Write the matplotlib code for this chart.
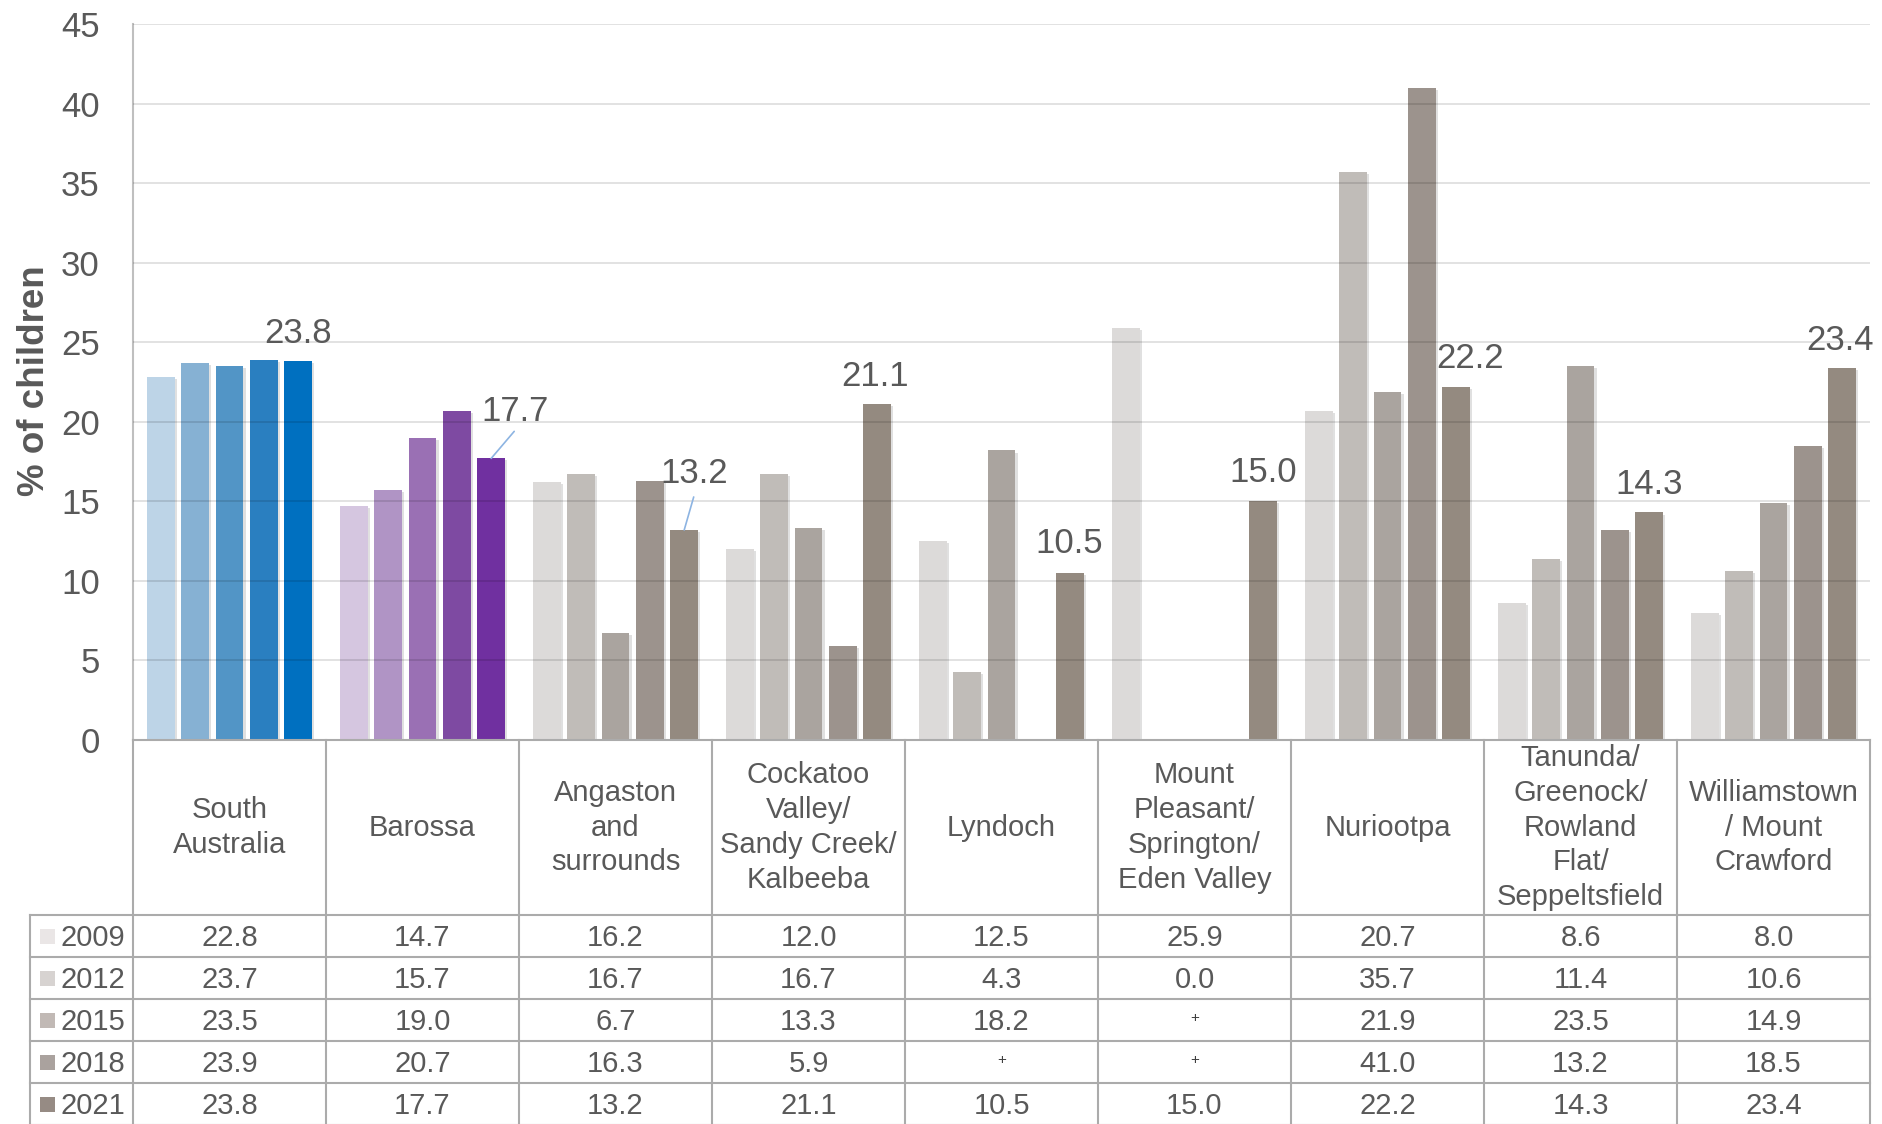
import numpy as np
import matplotlib
matplotlib.use("Agg")
import matplotlib.pyplot as plt
import matplotlib.patheffects as pe
from matplotlib.transforms import blended_transform_factory

plt.rcParams['font.family'] = ['Liberation Sans', 'DejaVu Sans']

# Categories and yearly values (None = suppressed, shown as "+")
categories = ["South\nAustralia", "Barossa", "Angaston\nand\nsurrounds",
              "Cockatoo\nValley/\nSandy Creek/\nKalbeeba", "Lyndoch",
              "Mount\nPleasant/\nSprington/\nEden Valley", "Nuriootpa",
              "Tanunda/\nGreenock/\nRowland\nFlat/\nSeppeltsfield",
              "Williamstown\n/ Mount\nCrawford"]
years = ["2009", "2012", "2015", "2018", "2021"]
v2009 = [22.8, 14.7, 16.2, 12.0, 12.5, 25.9, 20.7, 8.6, 8.0]
v2012 = [23.7, 15.7, 16.7, 16.7, 4.3, 0.0, 35.7, 11.4, 10.6]
v2015 = [23.5, 19.0, 6.7, 13.3, 18.2, None, 21.9, 23.5, 14.9]
v2018 = [23.9, 20.7, 16.3, 5.9, None, None, 41.0, 13.2, 18.5]
v2021 = [23.8, 17.7, 13.2, 21.1, 10.5, 15.0, 22.2, 14.3, 23.4]
series = [v2009, v2012, v2015, v2018, v2021]

blues = ['#BDD4E7', '#86B1D3', '#5295C6', '#2A7FC0', '#0070C0']
purples = ['#D5C6E0', '#B094C5', '#9A70B4', '#7E4AA2', '#7030A0']
greys = ['#DCDAD9', '#C0BCB8', '#AAA49F', '#9C938D', '#948A80']
swatch = ['#EAE6E6', '#D7D3D1', '#C1B9B5', '#AAA29E', '#968B84']

TXT = '#595959'
LINE = '#ABABAB'

W, H = 1882, 1124
fig = plt.figure(figsize=(W / 100, H / 100), dpi=100)
ax = fig.add_axes([133 / W, 1 - 740 / H, (1870 - 133) / W, (740 - 24) / H])

x = np.arange(len(categories))
step, bw = 0.178, 0.145
shadow = [pe.SimplePatchShadow(offset=(1.5, -1.5), shadow_rgbFace='black', alpha=0.12), pe.Normal()]

for k, vals in enumerate(series):
    h = np.array([np.nan if v is None else v for v in vals], dtype=float)
    cols = [blues[k], purples[k]] + [greys[k]] * (len(categories) - 2)
    bars = ax.bar(x + (k - 2) * step, h, width=bw, color=cols, zorder=1)
    for b in bars:
        b.set_path_effects(shadow)

# labels on the 2021 bars: (dx, dy) offsets of the label centre in pixels
lab_off = [(0, 31), (24, 50), (10, 59), (-2, 31), (-1, 32), (0, 32), (14, 31), (0, 31), (-2, 30)]
leaders = {1: (23, 27), 2: (9.5, 33)}
for i, v in enumerate(v2021):
    xb = x[i] + 2 * step
    dx, dy = lab_off[i]
    ax.annotate(f"{v:.1f}", xy=(xb, v), xytext=(dx, dy - 12.4), textcoords='offset pixels',
                ha='center', va='baseline', fontsize=25, color=TXT, zorder=4,
                annotation_clip=False)
    if i in leaders:
        ax.annotate('', xy=(xb, v), xytext=leaders[i], textcoords='offset pixels',
                    arrowprops=dict(arrowstyle='-', color='#8DB4E2', lw=1.2,
                                    shrinkA=0, shrinkB=0), zorder=4)

ax.set_xlim(-0.5, len(categories) - 0.5)
ax.set_ylim(0, 45)
ax.set_yticks(np.arange(0, 46, 5))
ax.set_xticks([])
ax.tick_params(axis='y', length=0, pad=24, labelsize=25, labelcolor=TXT)
ax.set_axisbelow(False)
ax.grid(axis='y', color='black', alpha=0.15, lw=1.1)
for s in ['top', 'right', 'bottom']:
    ax.spines[s].set_visible(False)
ax.spines['left'].set_color('#BFBFBF')
ax.spines['left'].set_linewidth(1.5)
ax.set_ylabel('% of children', fontsize=26.5, fontweight='bold', color=TXT)
ax.yaxis.set_label_coords(52 / W, 1 - 381 / H, transform=fig.transFigure)

# data table under the chart, y in figure pixels measured from the top
tab = fig.add_axes([0, 0, 1, 1], facecolor='none')
tab.set_xlim(0, W)
tab.set_ylim(H, 0)
tab.axis('off')
tr = blended_transform_factory(ax.transData, tab.transData)

head_top, head_bot = 740, 915
row_h = 42
n = len(categories)
for i in range(n + 1):
    tab.plot([i - 0.5, i - 0.5], [head_top, H], color=LINE, lw=1.5, transform=tr, clip_on=False)
tab.plot([-0.5, n - 0.5], [head_top, head_top], color=LINE, lw=1.5, transform=tr, clip_on=False)
tab.plot([30, 30], [head_bot, H], color=LINE, lw=1.5, clip_on=False)
for r in range(len(years) + 1):
    yy = head_bot + r * row_h
    tab.plot([30, 1870], [yy, yy], color=LINE, lw=1.5, clip_on=False)

for i, c in enumerate(categories):
    tab.text(x[i], (head_top + head_bot) / 2, c, transform=tr, ha='center', va='center',
             fontsize=21, color=TXT, linespacing=1.31, multialignment='center')

for r, (yr, vals) in enumerate(zip(years, series)):
    yc = head_bot + r * row_h + row_h / 2
    tab.add_patch(plt.Rectangle((40, yc - 7.5), 15, 15, color=swatch[r], lw=0))
    tab.text(61, yc + 10.5, yr, ha='left', va='baseline', fontsize=21, color=TXT)
    for i, v in enumerate(vals):
        if v is None:
            tab.text(x[i], yc - 2, '+', transform=tr, ha='center', va='center',
                     fontsize=11, color='#404040')
        else:
            tab.text(x[i], yc + 10.5, f"{v:.1f}", transform=tr, ha='center', va='baseline',
                     fontsize=21, color=TXT)

fig.savefig('out.png', dpi=100)
